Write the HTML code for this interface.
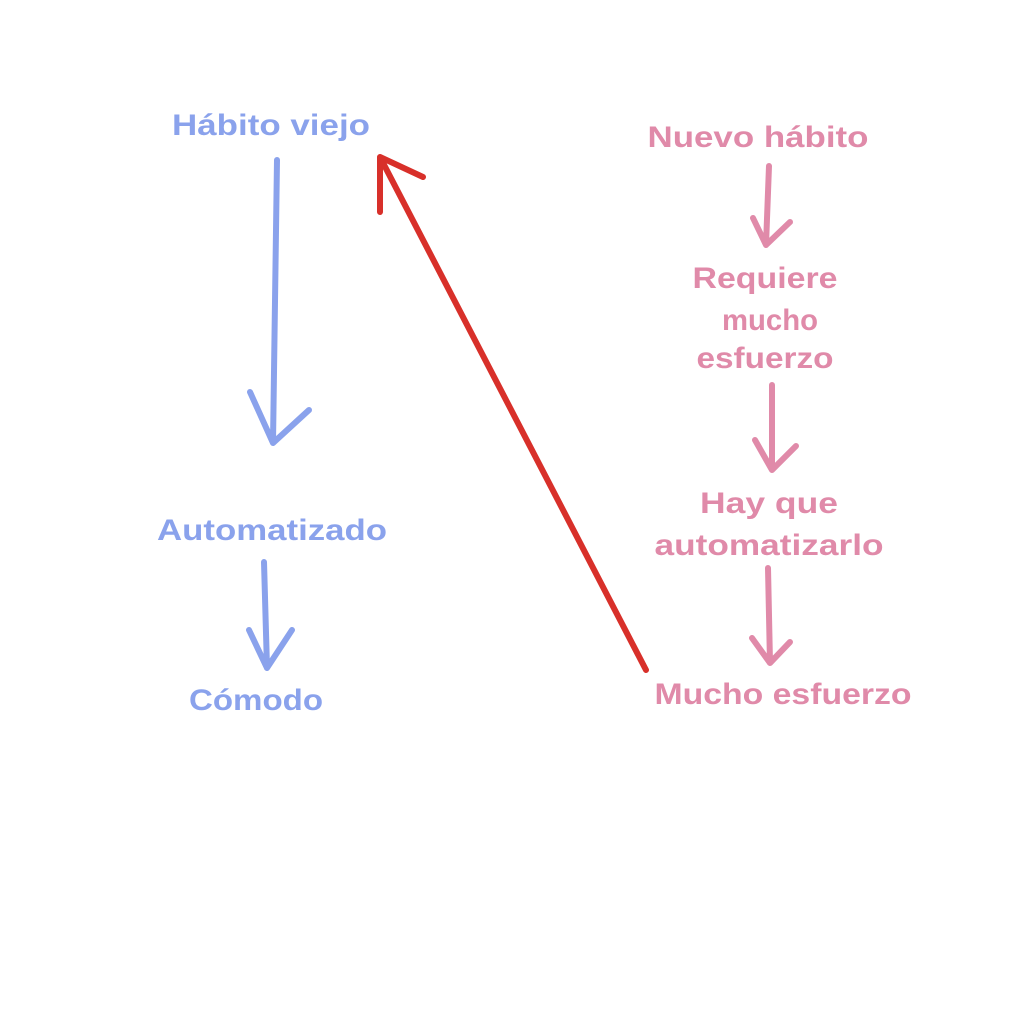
<!DOCTYPE html>
<html><head><meta charset="utf-8"><style>
html,body{margin:0;padding:0;background:#fff;}
svg{display:block}
text{font-family:"Liberation Sans",sans-serif;font-weight:bold;font-size:30px;text-anchor:middle}
.b{fill:#8aa2ec}.p{fill:#e08aa9}
</style></head><body>
<svg width="1024" height="1024" viewBox="0 0 1024 1024">
<rect width="1024" height="1024" fill="#fff"/>
<text class="b" x="271" y="135" textLength="198" lengthAdjust="spacingAndGlyphs">Hábito viejo</text>
<text class="b" x="272" y="540" textLength="230" lengthAdjust="spacingAndGlyphs">Automatizado</text>
<text class="b" x="256" y="710" textLength="134" lengthAdjust="spacingAndGlyphs">Cómodo</text>
<text class="p" x="758" y="147" textLength="221" lengthAdjust="spacingAndGlyphs">Nuevo hábito</text>
<text class="p" x="765" y="288" textLength="145" lengthAdjust="spacingAndGlyphs">Requiere</text>
<text class="p" x="770" y="330" textLength="96" lengthAdjust="spacingAndGlyphs">mucho</text>
<text class="p" x="765" y="368" textLength="137" lengthAdjust="spacingAndGlyphs">esfuerzo</text>
<text class="p" x="769" y="513" textLength="138" lengthAdjust="spacingAndGlyphs">Hay que</text>
<text class="p" x="769" y="555" textLength="229" lengthAdjust="spacingAndGlyphs">automatizarlo</text>
<text class="p" x="783" y="704" textLength="257" lengthAdjust="spacingAndGlyphs">Mucho esfuerzo</text>
<g fill="none" stroke-linecap="round" stroke-linejoin="round" stroke-width="6">
<g stroke="#8aa2ec">
<path d="M277 160 L273 443 M250 392 L273 443 L309 410"/>
<path d="M264 562 L267 668 M249 630 L267 668 L292 630"/>
</g>
<g stroke="#e08aa9">
<path d="M769 166 L766 245 M753 218 L766 245 L790 222"/>
<path d="M772 385 L772 470 M755 440 L772 470 L796 446"/>
<path d="M768 568 L770 663 M752 638 L770 663 L790 642"/>
</g>
<g stroke="#d8302a">
<path d="M646 670 L380 157 M380 212 L380 157 L423 177"/>
</g>
</g>
</svg>
</body></html>
